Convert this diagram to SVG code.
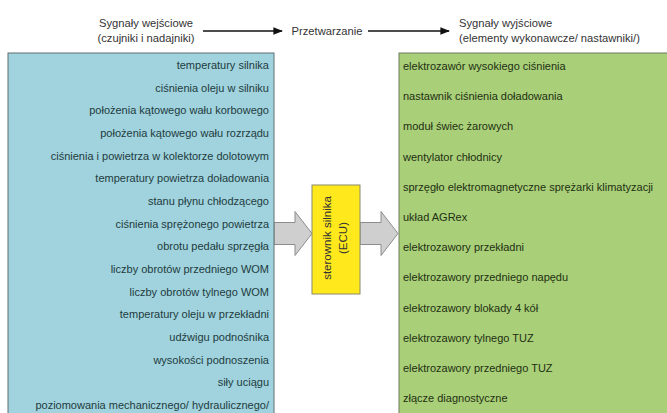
<svg xmlns="http://www.w3.org/2000/svg" width="667" height="413" viewBox="0 0 667 413">
<style>
.hdr{font-family:"Liberation Sans",Arial,sans-serif;font-size:11.2px;fill:#333}
.lt{font-family:"Liberation Sans",Arial,sans-serif;font-size:11px;fill:#1f3b40;text-anchor:end}
.rt{font-family:"Liberation Sans",Arial,sans-serif;font-size:11px;fill:#1f2f12}
.ecu{font-family:"Liberation Sans",Arial,sans-serif;font-size:11.5px;fill:#333;text-anchor:middle}
.flow{stroke:#111;stroke-width:1.6;fill:none;marker-end:url(#ah)}
.garrow{fill:#cfcfcf;stroke:#8c8c8c;stroke-width:1}
</style>
<defs>
<marker id="ah" viewBox="0 0 10 10" refX="9" refY="5" markerWidth="6" markerHeight="6" orient="auto" markerUnits="strokeWidth">
<path d="M0,1 L10,5 L0,9 z" fill="#111"/>
</marker>
</defs>
<rect width="667" height="413" fill="#fff"/>

<g id="header">
<text class="hdr" x="146" y="27" text-anchor="middle">Sygnały wejściowe</text>
<text class="hdr" x="146" y="42" text-anchor="middle">(czujniki i nadajniki)</text>
<text class="hdr" x="327" y="35" text-anchor="middle">Przetwarzanie</text>
<text class="hdr" x="459" y="27">Sygnały wyjściowe</text>
<text class="hdr" x="459" y="42">(elementy wykonawcze/ nastawniki/)</text>
</g>

<g id="connectors">
<line class="flow" x1="203" y1="31" x2="282" y2="31"/>
<line class="flow" x1="368" y1="31" x2="449" y2="31"/>
<path class="garrow" d="M274,222.5 H295 V211.5 L312,233.5 L295,255.5 V244.5 H274 Z"/>
<path class="garrow" d="M360,222.5 H381 V211.5 L398,233.5 L381,255.5 V244.5 H360 Z"/>
</g>

<g id="inputs">
<rect x="8" y="53" width="266" height="370" fill="#a0d3dd" stroke="#5f6f72" stroke-width="1"/>
<text class="lt" x="269" y="69">temperatury silnika</text>
<text class="lt" x="269" y="91.7">ciśnienia oleju w silniku</text>
<text class="lt" x="269" y="114.3">położenia kątowego wału korbowego</text>
<text class="lt" x="269" y="137">położenia kątowego wału rozrządu</text>
<text class="lt" x="269" y="159.7">ciśnienia i powietrza w kolektorze dolotowym</text>
<text class="lt" x="269" y="182.3">temperatury powietrza doładowania</text>
<text class="lt" x="269" y="205">stanu płynu chłodzącego</text>
<text class="lt" x="269" y="227.7">ciśnienia sprężonego powietrza</text>
<text class="lt" x="269" y="250.3">obrotu pedału sprzęgła</text>
<text class="lt" x="269" y="273">liczby obrotów  przedniego WOM</text>
<text class="lt" x="269" y="295.7">liczby obrotów tylnego WOM</text>
<text class="lt" x="269" y="318.3">temperatury oleju w przekładni</text>
<text class="lt" x="269" y="341">udźwigu podnośnika</text>
<text class="lt" x="269" y="363.7">wysokości podnoszenia</text>
<text class="lt" x="269" y="386.3">siły uciągu</text>
<text class="lt" x="269" y="409">poziomowania mechanicznego/ hydraulicznego/</text>
</g>

<g id="ecu">
<rect x="312" y="185" width="48" height="109" fill="#ffe81c" stroke="#8a8a6a" stroke-width="1"/>
<g transform="translate(335,238) rotate(-90)">
<text class="ecu" x="0" y="-4">sterownik silnika</text>
<text class="ecu" x="0" y="12">(ECU)</text>
</g>
</g>

<g id="outputs">
<rect x="399" y="53" width="275" height="370" fill="#a9cf79" stroke="#6f7a5f" stroke-width="1"/>
<text class="rt" x="403" y="70">elektrozawór wysokiego ciśnienia</text>
<text class="rt" x="403" y="100.2">nastawnik ciśnienia doładowania</text>
<text class="rt" x="403" y="130.4">moduł świec żarowych</text>
<text class="rt" x="403" y="160.6">wentylator chłodnicy</text>
<text class="rt" x="403" y="190.8">sprzęgło elektromagnetyczne sprężarki klimatyzacji</text>
<text class="rt" x="403" y="221">układ AGRex</text>
<text class="rt" x="403" y="251.2">elektrozawory przekładni</text>
<text class="rt" x="403" y="281.4">elektrozawory przedniego napędu</text>
<text class="rt" x="403" y="311.6">elektrozawory blokady 4 kół</text>
<text class="rt" x="403" y="341.8">elektrozawory tylnego TUZ</text>
<text class="rt" x="403" y="372">elektrozawory przedniego TUZ</text>
<text class="rt" x="403" y="402.2">złącze diagnostyczne</text>
</g>
</svg>
